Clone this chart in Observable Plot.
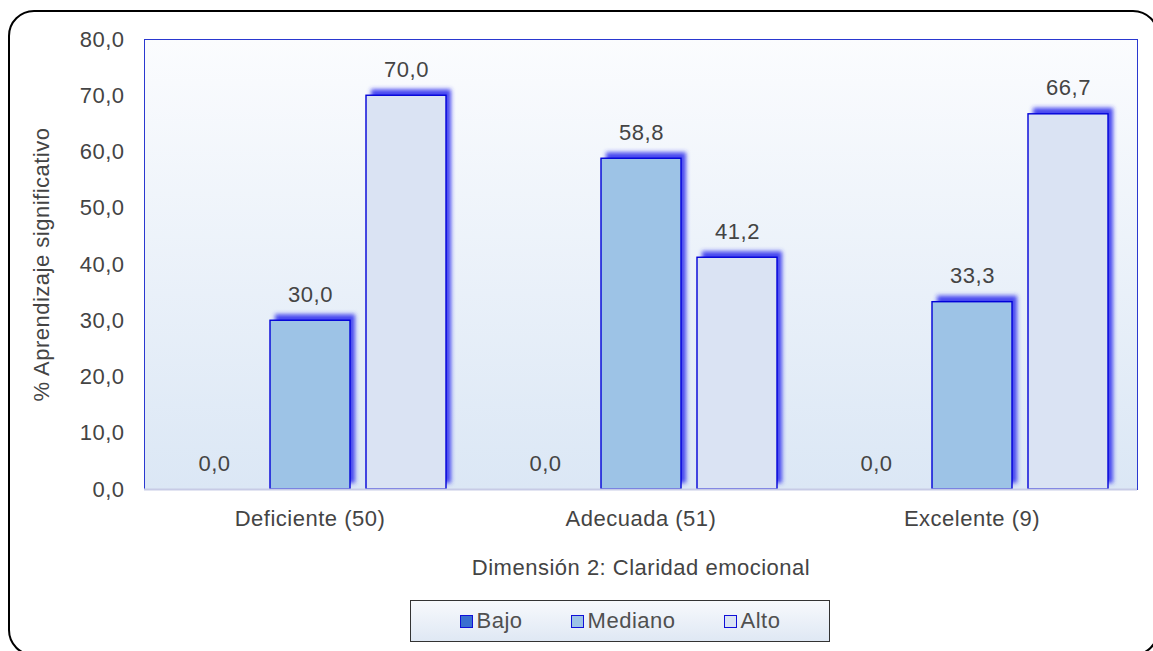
<!DOCTYPE html>
<html>
<head>
<meta charset="utf-8">
<script src="https://cdn.jsdelivr.net/npm/d3@7"></script>
<script src="https://cdn.jsdelivr.net/npm/@observablehq/plot@0.6"></script>
<style>
  html, body { margin: 0; padding: 0; background: #fff; }
  #chart {
    position: relative; width: 1153px; height: 651px; overflow: hidden;
    font-family: "Liberation Sans", Arial, sans-serif; color: #444;
  }
  #border {
    position: absolute; left: 8px; top: 10px; width: 1151px; height: 646px;
    box-sizing: border-box; border: 2px solid #000; border-radius: 26px;
    pointer-events: none;
  }
  #legend {
    position: absolute; left: 410px; top: 600px; width: 420px; height: 42px;
    box-sizing: border-box; border: 1px solid #333;
    background: linear-gradient(#f7f9fc, #dfe8f4);
    display: flex; align-items: center; justify-content: center; gap: 48px;
    font-size: 22px; letter-spacing: 0.5px; color: #505050;
  }
  .item { display: flex; align-items: center; gap: 4px; }
  .swatch { width: 13px; height: 13px; box-sizing: border-box; border: 1.5px solid #1010d8; }
</style>
</head>
<body>
<div id="chart">
  <div id="plot"></div>
  <div id="legend"></div>
  <div id="border"></div>
</div>
<script>
// Levels of "Claridad emocional" (group size in parentheses)
const categories = ["Deficiente (50)", "Adecuada (51)", "Excelente (9)"];
// Levels of meaningful learning
const series = ["Bajo", "Mediano", "Alto"];
// Percentages per category, one array per level
const bajo = [0.0, 0.0, 0.0];
const mediano = [30.0, 58.8, 33.3];
const alto = [70.0, 41.2, 66.7];
const yTicks = [0, 10, 20, 30, 40, 50, 60, 70, 80];

const seriesColors = ["#3a6fd0", "#9dc3e6", "#dae3f3"];
const glowColor = "#3434ee";
const values = [bajo, mediano, alto];

const rows = categories.flatMap((category, i) =>
  series.map((s, j) => ({category, series: s, value: values[j][i]}))
);

const fmt = v => v.toFixed(1).replace(".", ",");
const visible = d => d.value > 0;

const chart = Plot.plot({
  width: 1153,
  height: 580,
  marginLeft: 144,
  marginRight: 16,
  marginTop: 39,
  marginBottom: 91,
  style: {
    fontFamily: "'Liberation Sans', Arial, sans-serif",
    fontSize: "22px",
    letterSpacing: "0.5px",
    color: "#444",
    background: "transparent"
  },
  fx: {domain: categories, padding: 0},
  x: {domain: series, axis: null, paddingInner: 0.1667, paddingOuter: 0.307},
  y: {domain: [0, 80]},
  color: {domain: series, range: seriesColors},
  marks: [
    Plot.frame({facet: "super", fill: "url(#plot-bg)"}),
    Plot.barY(rows, {filter: visible, fx: "category", x: "series", y: "value",
      fill: glowColor, fillOpacity: 0.9, dx: 5, dy: -6}),
    Plot.barY(rows, {filter: visible, fx: "category", x: "series", y: "value",
      fill: "series", stroke: "#0000d8", strokeWidth: 1.4}),
    Plot.text(rows, {fx: "category", x: "series", y: "value",
      text: d => fmt(d.value), dy: -26, fill: "#444"}),
    Plot.frame({facet: "super", stroke: "#2a38d0", strokeWidth: 1}),
    // light baseline drawn over the frame's lower edge
    Plot.ruleY([0], {stroke: "#c7cbe6", strokeWidth: 2}),
    Plot.axisY(yTicks, {tickSize: 0, tickPadding: 20, tickFormat: fmt,
      label: "% Aprendizaje significativo", labelAnchor: "center",
      labelArrow: "none", labelOffset: 111}),
    Plot.axisFx({anchor: "bottom", tickSize: 0, tickPadding: 21,
      label: "Dimensión 2: Claridad emocional", labelAnchor: "center",
      labelArrow: "none", labelOffset: 85})
  ]
});

// Gradient for the plotting area and soft blue glow behind the bars
const svg = d3.select(chart);
const defs = svg.insert("defs", ":first-child");
const grad = defs.append("linearGradient").attr("id", "plot-bg")
  .attr("x1", 0).attr("y1", 0).attr("x2", 0).attr("y2", 1);
grad.append("stop").attr("offset", "0%").attr("stop-color", "#fbfcfe");
grad.append("stop").attr("offset", "100%").attr("stop-color", "#dbe7f5");
defs.append("filter").attr("id", "bar-glow")
  .attr("x", "-20%").attr("y", "-20%").attr("width", "140%").attr("height", "140%")
  .append("feGaussianBlur").attr("stdDeviation", 2);
svg.selectAll(`[fill='${glowColor}']`).attr("filter", "url(#bar-glow)");

document.getElementById("plot").append(chart);

// Legend
const legend = d3.select("#legend");
series.forEach((s, i) => {
  const item = legend.append("div").attr("class", "item");
  item.append("div").attr("class", "swatch").style("background", seriesColors[i]);
  item.append("span").text(s);
});
</script>
</body>
</html>
